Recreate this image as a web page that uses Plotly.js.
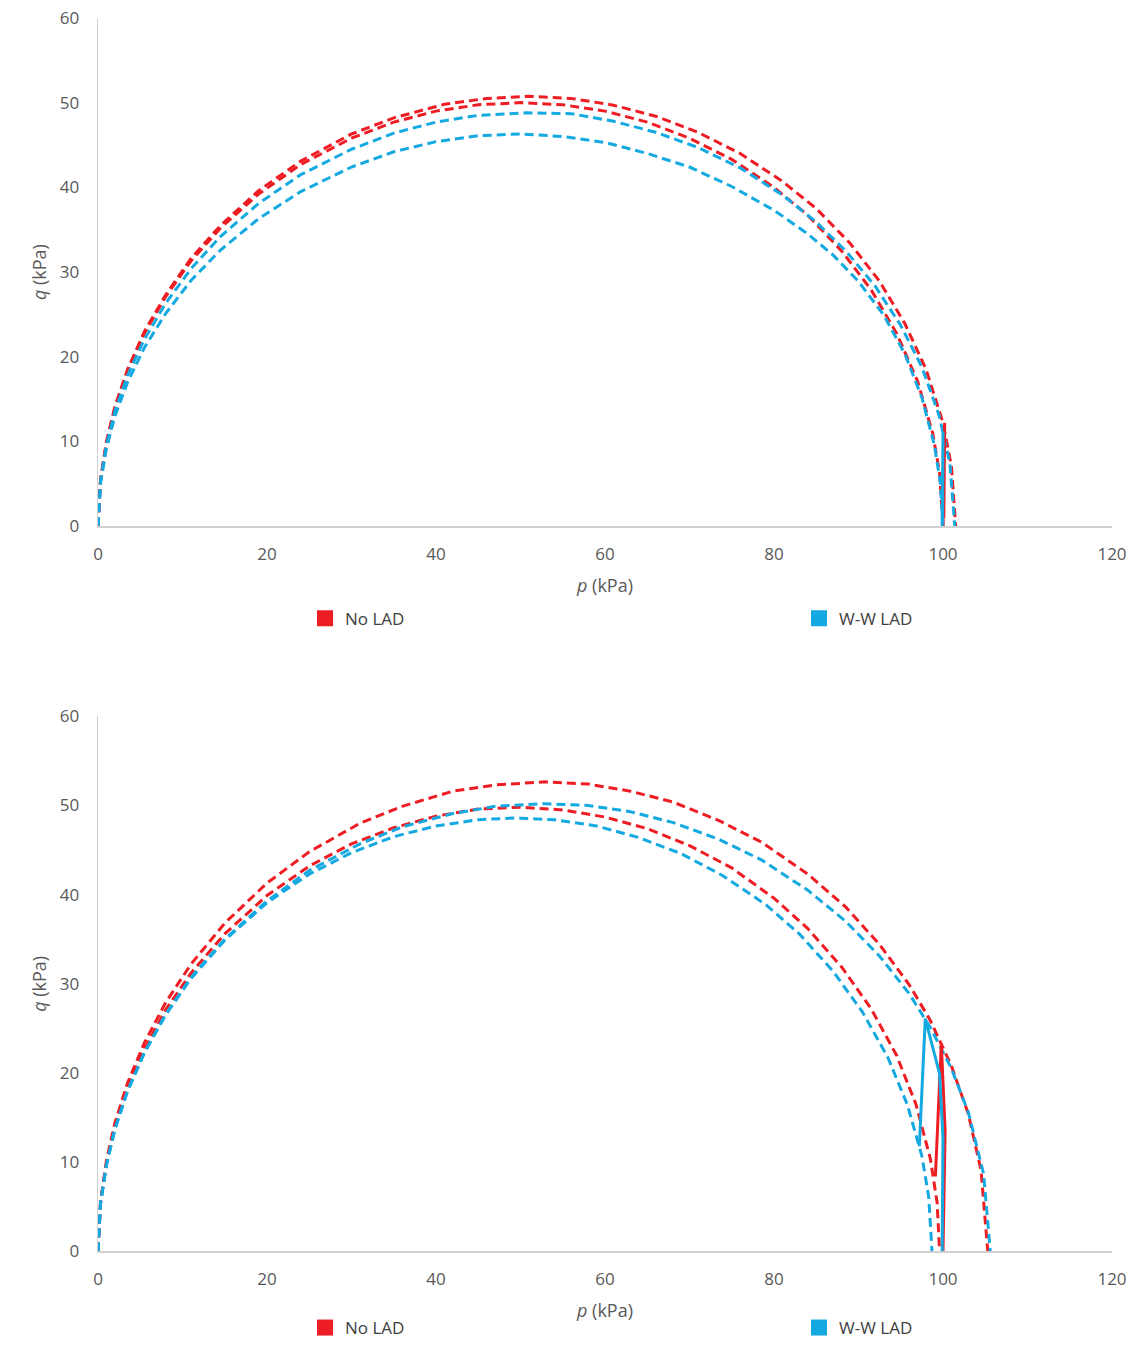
<!DOCTYPE html>
<html>
<head>
<meta charset="utf-8">
<script src="https://cdn.plot.ly/plotly-3.0.1.min.js"></script>
<style>
  html, body { margin: 0; padding: 0; background: #ffffff; width: 1135px; height: 1346px; overflow: hidden; }
  #chart { width: 1135px; height: 1346px; display: block; }
</style>
</head>
<body>
<div id="chart"></div>
<script>
// ---------- tick labels ----------
const xTicks = [0, 20, 40, 60, 80, 100, 120];
const yTicks = [0, 10, 20, 30, 40, 50, 60];
const seriesNames = ['No LAD', 'W-W LAD'];

// ---------- top panel ----------
const topRedOuterP = [0, 0.3, 1, 2, 3.5, 5.5, 8, 11, 14.5, 19, 24, 30, 35, 41, 46, 51, 56, 61, 66, 71, 76, 81, 85, 89, 92.5, 95.5, 98, 100, 101, 101.5];
const topRedOuterQ = [0, 5.5, 10.0, 14.1, 18.5, 23.0, 27.3, 31.6, 35.5, 39.6, 43.1, 46.3, 48.2, 49.8, 50.5, 50.75, 50.5, 49.7, 48.4, 46.5, 44.0, 40.7, 37.5, 33.4, 28.9, 23.9, 18.5, 12.2, 7.1, 0];

const topRedInnerP = [0, 0.3, 1, 2, 3.5, 5.5, 8, 11, 14.5, 19, 24, 30, 35, 40, 45, 50, 55, 60, 65, 70, 75, 80, 84, 88, 91.5, 94.5, 97, 98.8, 99.6, 100];
const topRedInnerQ = [0, 5.5, 9.9, 14.0, 18.4, 22.8, 27.1, 31.3, 35.2, 39.2, 42.7, 45.8, 47.7, 49.0, 49.75, 50.0, 49.75, 49.0, 47.7, 45.8, 43.3, 40.0, 36.7, 32.5, 27.9, 22.8, 17.1, 10.9, 6.3, 0];

const topBlueOuterP = [0, 0.3, 1, 2, 3.5, 5.5, 8, 11, 14.5, 19, 24, 30, 35, 40, 45, 50.7, 56, 61, 66, 71, 76, 81, 85, 88.5, 92, 95, 97.5, 99.5, 100.8, 101.4];
const topBlueOuterQ = [0, 5.3, 9.6, 13.6, 17.8, 22.1, 26.3, 30.4, 34.2, 38.1, 41.5, 44.5, 46.4, 47.7, 48.5, 48.8, 48.7, 47.8, 46.5, 44.7, 42.3, 39.1, 35.9, 32.5, 28.3, 23.7, 18.8, 13.2, 7.5, 0];

const topBlueInnerP = [0, 0.3, 1, 2, 3.5, 5.5, 8, 11, 14.5, 19, 24, 30, 35, 40, 45, 50, 55, 60, 65, 70, 75, 80, 84, 87, 90, 93, 95.5, 97.5, 99, 99.7, 100];
const topBlueInnerQ = [0, 5.1, 9.2, 13.0, 17.0, 21.1, 25.1, 29.0, 32.6, 36.3, 39.5, 42.4, 44.2, 45.4, 46.1, 46.3, 46.0, 45.3, 44.0, 42.4, 40.1, 37.3, 34.5, 32.0, 28.9, 24.9, 20.3, 15.2, 9.5, 5.0, 0];

const topRedPathP = [100.0, 100.2, 100.1];
const topRedPathQ = [0, 12.2, 1.0];
const topBluePathP = [99.9, 100.0, 99.95];
const topBluePathQ = [0, 11.2, 0.5];

// ---------- bottom panel ----------
const botRedOuterP = [0, 0.3, 1, 2, 3.5, 5.5, 8, 11, 15, 20, 25, 31, 36, 42, 47, 53, 58, 63, 68, 73.5, 78.5, 84, 88.5, 92.5, 96, 98.5, 101, 103, 104.5, 105.3];
const botRedOuterQ = [0, 5.6, 10.2, 14.4, 18.9, 23.4, 27.9, 32.2, 36.8, 41.3, 44.8, 48.0, 49.9, 51.6, 52.3, 52.65, 52.4, 51.6, 50.4, 48.3, 45.9, 42.3, 38.6, 34.4, 29.9, 25.9, 20.8, 15.4, 9.1, 0];

const botRedInnerP = [0, 0.3, 1, 2, 3.5, 5.5, 8, 11, 15, 20, 25, 30, 35, 40, 45, 50, 55, 60, 65, 70, 75, 80, 84, 88, 91.5, 94.5, 96.8, 98.5, 99.3, 99.6];
const botRedInnerQ = [0, 5.5, 9.9, 14.0, 18.3, 22.7, 27.1, 31.2, 35.6, 39.9, 43.2, 45.7, 47.5, 48.8, 49.6, 49.8, 49.5, 48.7, 47.4, 45.5, 43.0, 39.6, 36.2, 31.9, 27.2, 22.0, 16.5, 10.4, 5.5, 0];

const botBlueOuterP = [0, 0.3, 1, 2, 3.5, 5.5, 8, 11, 15, 20, 25, 31, 36, 42, 47, 52.8, 58, 63, 68, 73.5, 78.5, 84, 88.5, 92.5, 96, 98.5, 101, 103, 104.8, 105.6];
const botBlueOuterQ = [0, 5.3, 9.7, 13.7, 18.0, 22.3, 26.6, 30.7, 35.0, 39.3, 42.7, 45.7, 47.6, 49.1, 49.9, 50.2, 50.0, 49.3, 48.1, 46.2, 43.9, 40.5, 37.0, 33.1, 28.9, 25.1, 20.5, 15.6, 8.7, 0];

const botBlueInnerP = [0, 0.3, 1, 2, 3.5, 5.5, 8, 11, 15, 20, 25, 30, 35, 40, 45, 49.35, 54, 59, 64, 69, 74, 79, 83, 87, 90.5, 93.5, 95.8, 97.5, 98.3, 98.7];
const botBlueInnerQ = [0, 5.4, 9.7, 13.7, 18.0, 22.3, 26.5, 30.6, 34.9, 39.1, 42.3, 44.7, 46.5, 47.7, 48.4, 48.6, 48.4, 47.7, 46.4, 44.6, 42.1, 38.9, 35.6, 31.4, 26.8, 21.7, 16.4, 10.7, 6.2, 0];

const botRedPathP = [99.1, 99.8, 100.25, 100.0];
const botRedPathQ = [8.4, 23.3, 13.5, 0];
const botBluePathP = [97.2, 97.9, 99.6, 100.0, 99.9];
const botBluePathQ = [11.8, 26.1, 19.9, 12.8, 0];

// ---------- styling ----------
const RED = '#ee1d24';
const BLUE = '#15a9e1';
const DASH = '9px,5px';
const LW = 3;
const FONT = 'Open Sans, Liberation Sans, sans-serif';
const TICKCOL = '#595959';
const AXCOL = '#d0d0d0';

function dashed(p, q, color, xa, ya) {
  return {x: p, y: q, xaxis: xa, yaxis: ya, type: 'scatter', mode: 'lines',
          line: {color: color, width: LW, dash: DASH}, showlegend: false, hoverinfo: 'skip'};
}
function solid(p, q, color, xa, ya) {
  return {x: p, y: q, xaxis: xa, yaxis: ya, type: 'scatter', mode: 'lines',
          line: {color: color, width: LW}, showlegend: false, hoverinfo: 'skip'};
}
function legendItem(name, color, legendId, xa, ya) {
  return {x: [null], y: [null], xaxis: xa, yaxis: ya, type: 'scatter', mode: 'markers',
          name: name, legend: legendId, showlegend: true,
          marker: {symbol: 'square', size: 16, color: color}};
}

const traces = [
  dashed(topRedOuterP, topRedOuterQ, RED, 'x', 'y'),
  dashed(topRedInnerP, topRedInnerQ, RED, 'x', 'y'),
  dashed(topBlueOuterP, topBlueOuterQ, BLUE, 'x', 'y'),
  dashed(topBlueInnerP, topBlueInnerQ, BLUE, 'x', 'y'),
  solid(topRedPathP, topRedPathQ, RED, 'x', 'y'),
  solid(topBluePathP, topBluePathQ, BLUE, 'x', 'y'),
  dashed(botRedOuterP, botRedOuterQ, RED, 'x2', 'y2'),
  dashed(botRedInnerP, botRedInnerQ, RED, 'x2', 'y2'),
  dashed(botBlueOuterP, botBlueOuterQ, BLUE, 'x2', 'y2'),
  dashed(botBlueInnerP, botBlueInnerQ, BLUE, 'x2', 'y2'),
  solid(botRedPathP, botRedPathQ, RED, 'x2', 'y2'),
  solid(botBluePathP, botBluePathQ, BLUE, 'x2', 'y2'),
  legendItem(seriesNames[0], RED, 'legend', 'x', 'y'),
  legendItem(seriesNames[1], BLUE, 'legend2', 'x', 'y'),
  legendItem(seriesNames[0], RED, 'legend3', 'x2', 'y2'),
  legendItem(seriesNames[1], BLUE, 'legend4', 'x2', 'y2')
];

const W = 1135, H = 1346;
function PY(py) { return 1 - py / H; }
const xDom = [98 / W, 1112 / W];
function xAxis(anchor) {
  return {domain: xDom, anchor: anchor, range: [0, 120], tickvals: xTicks, ticktext: xTicks.map(String),
          showgrid: false, zeroline: false, showline: true, linecolor: AXCOL, linewidth: 1.3,
          ticks: '', ticklabelstandoff: 12, tickfont: {family: FONT, size: 17, color: TICKCOL},
          title: {text: '<i>p</i> (kPa)', font: {family: FONT, size: 18, color: TICKCOL}, standoff: 15},
          fixedrange: true};
}
function yAxis(anchor, dom) {
  return {domain: dom, anchor: anchor, range: [0, 60], tickvals: yTicks, ticktext: yTicks.map(String),
          showgrid: false, zeroline: false, showline: true, linecolor: AXCOL, linewidth: 1.3,
          ticks: '', ticklabelstandoff: 14, tickfont: {family: FONT, size: 17, color: TICKCOL},
          title: {text: '<i>q</i> (kPa)', font: {family: FONT, size: 18, color: TICKCOL}, standoff: 8},
          fixedrange: true};
}
function legendAt(px, py) {
  return {x: px / W, xanchor: 'left', y: PY(py), yanchor: 'middle', orientation: 'h',
          bgcolor: 'rgba(0,0,0,0)', font: {family: FONT, size: 17, color: '#404040'},
          itemclick: false, itemdoubleclick: false};
}

const layout = {
  width: W, height: H,
  margin: {l: 0, r: 0, t: 0, b: 0},
  paper_bgcolor: '#ffffff', plot_bgcolor: '#ffffff',
  showlegend: true,
  xaxis: xAxis('y'),
  yaxis: yAxis('x', [PY(529), PY(18)]),
  xaxis2: xAxis('y2'),
  yaxis2: yAxis('x2', [PY(1258), PY(720)]),
  legend: legendAt(305, 622),
  legend2: legendAt(799, 622),
  legend3: legendAt(305, 1335),
  legend4: legendAt(799, 1335)
};

Plotly.newPlot('chart', traces, layout, {staticPlot: true, displayModeBar: false});
</script>
</body>
</html>
